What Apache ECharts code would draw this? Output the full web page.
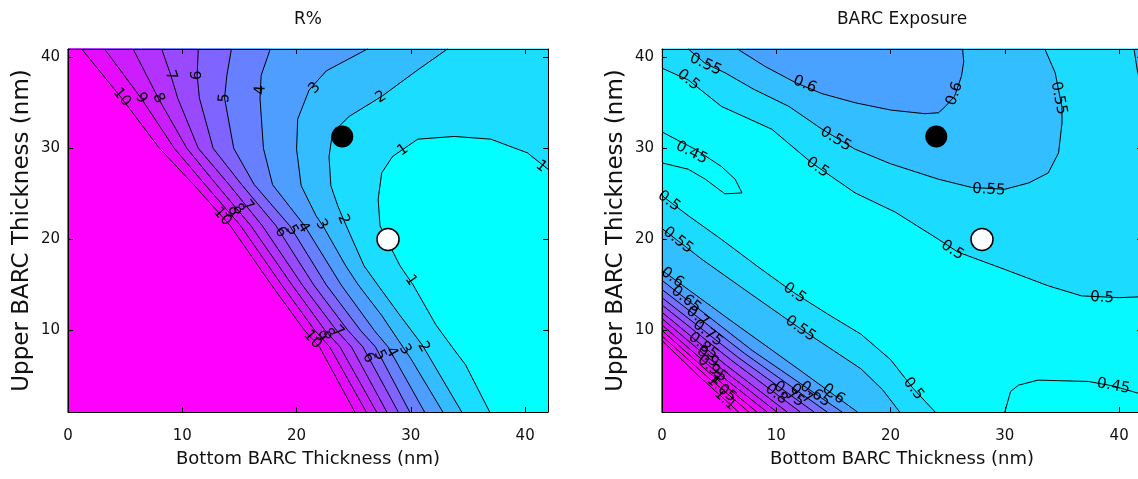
<!DOCTYPE html>
<html>
<head>
<meta charset="utf-8">
<script src="https://cdn.jsdelivr.net/npm/echarts@6.0.0/dist/echarts.min.js"></script>
<style>
html,body{margin:0;padding:0;background:#fff;}
#chart{width:1138px;height:479px;}
</style>
</head>
<body>
<div id="chart"></div>
<script>
// ================= DATA =================
const xTicks = [0, 10, 20, 30, 40];
const yTicks = [10, 20, 30, 40];
const xExtent = [0, 42];
const yExtent = [1.05, 40.9];

const rTitle = 'R%';
const eTitle = 'BARC Exposure';
const xName = 'Bottom BARC Thickness (nm)';
const yName = 'Upper BARC Thickness (nm)';

const blackPoint = [24.0, 31.3];
const whitePoint = [28.0, 20.0];

// ---- R% contour levels and lines ----
const rLevels = [1, 2, 3, 4, 5, 6, 7, 8, 9, 10];
const rColorDomain = [0, 10];
const rLine1 = [[42,27.7],[40.2,29.5],[37.0,31.0],[33.8,31.3],[30.6,31.0],[28.4,29.1],[27.45,27.3],[27.14,24.4],[27.3,21.5],[28.0,19.7],[29.05,17.1],[30.2,15],[32.2,10.6],[33.6,8.2],[34.8,6.2],[36.9,1.05]];
const rLine2 = [[33.2,40.9],[30.6,38.6],[27.45,35.7],[24.6,33.5],[23.15,31.7],[22.84,29.1],[23.0,25.9],[23.6,23.7],[24.1,22.2],[25.9,17.1],[27.1,15],[29.05,11.65],[31.0,8.4],[34.45,1.05]];
const rLine3 = [[26.2,40.9],[22.6,38.5],[21.1,36.4],[20.1,33.2],[20.0,29.9],[20.4,25.9],[21.7,22.6],[22.3,21.5],[24.3,17.1],[25.4,15],[27.45,11.65],[29.3,8.2],[30.0,6.9],[32.8,1.05]];
const rLine4 = [[17.7,40.9],[16.9,38],[16.8,35.5],[17.1,30],[17.9,26],[20.7,21.5],[23.9,15],[26.8,10],[28.0,8.2],[31.2,1.05]];
const rLine5 = [[14.3,40.9],[13.9,38],[13.7,35.5],[14.5,30],[16.3,26],[19.4,21.5],[22.6,15],[25.6,10],[26.9,8.2],[29.9,1.05]];
const rLine6 = [[11.4,40.9],[11.3,38],[11.5,35.5],[12.7,30],[15.2,26],[18.2,21.5],[21.5,15],[24.5,10],[25.8,8.2],[28.9,1.05]];
const rLine7 = [[8.2,40.9],[9.0,38],[9.6,35.5],[11.4,30],[14.1,26],[17.0,21.5],[20.5,15],[23.5,10],[24.8,8.2],[27.9,1.05]];
const rLine8 = [[5.7,40.9],[7.9,35.5],[10.4,30],[13.0,26],[16.0,21.5],[19.6,15],[22.5,10],[23.8,8.2],[27.0,1.05]];
const rLine9 = [[3.2,40.9],[6.4,35.5],[9.3,30],[12.0,26],[15.1,21.5],[18.7,15],[21.6,10],[22.9,8.2],[26.1,1.05]];
const rLine10 = [[1.2,40.9],[4.7,35.5],[8.0,30],[11.0,26],[14.2,21.5],[17.8,15],[20.7,10],[22.0,8.2],[25.1,1.05]];
// contour labels: [level, x, y]
const rLabels = [
  [10,4.7,35.6],[9,6.4,35.5],[8,7.9,35.5],[7,9.0,38.0],[6,11.3,38.0],[5,13.7,35.5],[4,16.85,36.4],
  [3,21.6,36.6],[2,27.4,35.6],[1,29.3,29.8],[1,41.4,28.0],
  [10,13.5,22.5],[9,14.2,22.9],[8,14.9,23.3],[7,15.7,23.7],
  [6,18.6,20.8],[5,19.6,21.0],[4,20.6,21.3],[3,22.2,21.6],[2,24.1,22.2],
  [10,21.4,9.0],[9,22.1,9.3],[8,22.8,9.6],[7,23.6,9.9],
  [6,26.3,7.0],[5,27.3,7.3],[4,28.3,7.6],[3,29.5,7.9],[2,31.1,8.2],
  [1,30.0,15.5]
];

// ---- BARC Exposure contour levels and lines ----
const eLevels = [0.45, 0.5, 0.55, 0.6, 0.65, 0.7, 0.75, 0.8, 0.85, 0.9, 0.95, 1, 1.05, 1.1];
const eColorDomain = [0.44, 1.0];
const eLine045a = [[30,1.05],[30.5,3.3],[31.2,4.0],[32.9,4.55],[37.3,4.4],[39.5,3.9],[41.7,3.1],[42,3.1]];
const eLine045b = [[0,31.8],[1.5,30.8],[2.9,29.9],[5.2,28.0],[6.4,26.6],[7.0,25.1],[5.5,25.0],[3.8,26.6],[2.3,27.7],[0,28.4]];
const eLine050a = [[42,13.7],[40,13.6],[36.7,13.8],[33.8,14.9],[30,16.7],[25.9,18.6],[24.2,20],[20.4,23],[16.9,25.1],[13.1,28.4],[9.6,32.1],[5.2,34.6],[2.3,37.5],[0,38.8]];
const eLine050b = [[0,24.8],[2.3,22.6],[5.2,20.0],[8.5,16.9],[11.6,14.1],[14.5,11.8],[17.4,9.6],[20.0,6.8],[22.0,3.6],[23.9,1.05]];
const eLine055a = [[33.5,40.9],[34.4,38.3],[35,34.5],[35,32.8],[34.7,29.5],[33.8,27.3],[32.1,26.2],[30,25.5],[27.1,25.7],[24.2,26.6],[20,28.3],[16.9,29.9],[14,32.1],[11.1,34.6],[8,36.5],[5.5,38.3],[3.8,39.3],[2.3,40.9]];
const eLine055b = [[0,21.2],[3.5,17.8],[7.1,14.6],[12.1,10.2],[15.0,7.8],[17.4,5.8],[19.3,3.5],[20.8,1.05]];
const eLine055c = [[42,36.5],[41.6,38.5],[41.3,40.9]];
const eLine060a = [[26.3,40.9],[26.4,39.5],[26.2,37.9],[25.6,35.7],[24.8,34.6],[24.2,33.9],[23,33.8],[20,34.2],[16.9,35],[14,36],[11.7,37.2],[9,39],[6.6,40.9]];
const eLine060b = [[0,16.6],[6,11.1],[12,5.7],[17.1,1.05]];
const eLine065 = [[0,15.5],[7.9,7.8],[15.75,1.05]];
const eLine070 = [[0,14.5],[7.2,7.5],[14.45,1.05]];
const eLine075 = [[0,13.6],[6.6,7.1],[13.3,1.05]];
const eLine080 = [[0,12.8],[6.0,6.8],[12.1,1.05]];
const eLine085 = [[0,12.0],[5.5,6.3],[10.95,1.05]];
const eLine090 = [[0,11.3],[5.0,6.0],[10.05,1.05]];
const eLine095 = [[0,10.6],[4.6,5.6],[9.2,1.05]];
const eLine100 = [[0,10.0],[4.1,5.4],[8.3,1.05]];
const eLine105 = [[0,9.4],[3.8,5.1],[7.6,1.05]];
const eLine110 = [[0,8.9],[3.3,4.9],[6.7,1.05]];
const eLabels = [
  [0.55,3.8,39.2],[0.5,2.3,37.5],[0.6,12.5,37.0],[0.55,15.2,31.0],[0.5,13.6,27.9],
  [0.6,25.6,36.0],[0.55,34.7,35.5],[0.55,28.6,25.45],[0.5,25.4,18.8],[0.5,38.5,13.6],[0.45,39.5,3.9],
  [0.45,2.6,29.5],
  [0.5,0.6,24.2],[0.55,1.4,19.9],[0.5,11.6,14.1],[0.55,12.1,10.2],[0.5,22.0,3.6],
  [0.6,0.9,15.8],[0.65,2.1,13.4],[0.7,3.1,11.5],[0.75,4.0,9.7],
  [0.85,3.6,8.3],[0.9,4.0,7.1],[0.95,4.4,5.8],[1,4.8,4.7],[1.05,5.2,3.6],[1.1,5.5,2.4],
  [0.8,10.0,3.0],[0.75,11.1,3.0],[0.7,12.2,3.0],[0.65,13.4,3.0],[0.6,15.0,3.0]
];

// ================= BUILD =================
const FONT = '"DejaVu Sans", "Liberation Sans", Arial, sans-serif';

const rContours = [rLine1,rLine2,rLine3,rLine4,rLine5,rLine6,rLine7,rLine8,rLine9,rLine10]
  .map((pts, i) => ({level: rLevels[i], pts: pts, side: 'high'}));

const eContours = [
  {level: 0.45, pts: eLine045a, side: 'low'},
  {level: 0.45, pts: eLine045b, side: 'low'},
  {level: 0.5, pts: eLine050a, side: 'high'},
  {level: 0.5, pts: eLine050b, side: 'high'},
  {level: 0.55, pts: eLine055a, side: 'high'},
  {level: 0.55, pts: eLine055b, side: 'high'},
  {level: 0.55, pts: eLine055c, side: 'high'},
  {level: 0.6, pts: eLine060a, side: 'high'},
  {level: 0.6, pts: eLine060b, side: 'high'},
  {level: 0.65, pts: eLine065, side: 'high'},
  {level: 0.7, pts: eLine070, side: 'high'},
  {level: 0.75, pts: eLine075, side: 'high'},
  {level: 0.8, pts: eLine080, side: 'high'},
  {level: 0.85, pts: eLine085, side: 'high'},
  {level: 0.9, pts: eLine090, side: 'high'},
  {level: 0.95, pts: eLine095, side: 'high'},
  {level: 1, pts: eLine100, side: 'high'},
  {level: 1.05, pts: eLine105, side: 'high'},
  {level: 1.1, pts: eLine110, side: 'high'}
];

// "cool" colormap (cyan -> magenta), green channel slightly deepened to match the picture
function cool(t) {
  t = Math.max(0, Math.min(1, t));
  return 'rgb(' + Math.round(255 * t) + ',' + Math.round(255 * Math.pow(1 - t, 1.35)) + ',255)';
}

const cornerPts = [[xExtent[0], yExtent[0]], [xExtent[0], yExtent[1]], [xExtent[1], yExtent[1]], [xExtent[1], yExtent[0]]];
function edgeT(p) {
  const W = xExtent[1] - xExtent[0], H = yExtent[1] - yExtent[0], e = 1e-6;
  if (Math.abs(p[0] - xExtent[0]) < e) return (p[1] - yExtent[0]) / H;
  if (Math.abs(p[1] - yExtent[1]) < e) return 1 + (p[0] - xExtent[0]) / W;
  if (Math.abs(p[0] - xExtent[1]) < e) return 2 + (yExtent[1] - p[1]) / H;
  if (Math.abs(p[1] - yExtent[0]) < e) return 3 + (xExtent[1] - p[0]) / W;
  return null;
}
// close a boundary-to-boundary contour by walking the frame clockwise from its end to its start
function closeRing(pts) {
  const ts = edgeT(pts[0]), te = edgeT(pts[pts.length - 1]);
  const ring = pts.slice();
  if (ts === null || te === null) return ring;
  let end = ts;
  if (end <= te) end += 4;
  for (let c = Math.ceil(te + 1e-9); c < end; c++) ring.push(cornerPts[c % 4]);
  return ring;
}

function segDist(p, a, b) {
  const dx = b[0] - a[0], dy = b[1] - a[1];
  const L = dx * dx + dy * dy;
  let t = L ? ((p[0] - a[0]) * dx + (p[1] - a[1]) * dy) / L : 0;
  t = Math.max(0, Math.min(1, t));
  const qx = a[0] + t * dx - p[0], qy = a[1] + t * dy - p[1];
  return Math.sqrt(qx * qx + qy * qy);
}

const grids = [
  {left: 68, top: 49, width: 480, height: 363},
  {left: 662, top: 49, width: 480, height: 363}
];

function buildSeries(gi, levels, domain, contours, labels) {
  const tOf = L => (L - domain[0]) / (domain[1] - domain[0]);
  const lows = contours.filter(c => c.side === 'low');
  const highs = contours.filter(c => c.side !== 'low').sort((a, b) => a.level - b.level);
  const bandBelow = L => { const k = levels.indexOf(L); return k <= 0 ? cool(0) : cool(tOf(levels[k - 1])); };
  const polys = [];
  polys.push({ring: cornerPts, color: lows.length ? cool(tOf(Math.min.apply(null, lows.map(c => c.level)))) : cool(0)});
  lows.forEach(c => polys.push({ring: closeRing(c.pts), color: bandBelow(c.level)}));
  highs.forEach(c => polys.push({ring: closeRing(c.pts), color: cool(tOf(c.level))}));

  const axisIdx = {xAxisIndex: 2 * gi, yAxisIndex: 2 * gi};
  const out = [];
  out.push(Object.assign({
    type: 'custom', silent: true, animation: false, z: 1,
    data: polys.map(p => p.ring[0]),
    renderItem: (params, api) => {
      const p = polys[params.dataIndex];
      return {type: 'polygon', shape: {points: p.ring.map(q => api.coord(q))},
        style: {fill: p.color, stroke: p.color, lineWidth: 0.6}};
    }
  }, axisIdx));
  out.push(Object.assign({
    type: 'custom', silent: true, animation: false, z: 2,
    data: contours.map(c => c.pts[0]),
    renderItem: (params, api) => ({
      type: 'polyline', shape: {points: contours[params.dataIndex].pts.map(q => api.coord(q))},
      style: {stroke: '#000', lineWidth: 1, fill: null}
    })
  }, axisIdx));
  out.push(Object.assign({
    type: 'custom', silent: true, animation: false, z: 3,
    data: labels.map(l => [l[1], l[2]]),
    renderItem: (params, api) => {
      const l = labels[params.dataIndex];
      const p = api.coord([l[1], l[2]]);
      let best = Infinity, ang = 0;
      contours.forEach(c => {
        if (Math.abs(c.level - l[0]) > 1e-9) return;
        const P = c.pts.map(q => api.coord(q));
        for (let k = 0; k < P.length - 1; k++) {
          const d = segDist(p, P[k], P[k + 1]);
          if (d < best) { best = d; ang = Math.atan2(P[k + 1][1] - P[k][1], P[k + 1][0] - P[k][0]); }
        }
      });
      let r = -ang;
      while (r > Math.PI / 2) r -= Math.PI;
      while (r < -Math.PI / 2) r += Math.PI;
      return {type: 'text', x: p[0], y: p[1], rotation: r,
        style: {text: String(l[0]), fill: '#000', fontSize: 15, fontFamily: FONT, align: 'center', verticalAlign: 'middle'}};
    }
  }, axisIdx));
  out.push(Object.assign({
    type: 'scatter', silent: true, animation: false, z: 5, symbol: 'circle', symbolSize: 22,
    data: [blackPoint], itemStyle: {color: '#000', opacity: 1}
  }, axisIdx));
  out.push(Object.assign({
    type: 'scatter', silent: true, animation: false, z: 5, symbol: 'circle', symbolSize: 22,
    data: [whitePoint], itemStyle: {color: '#fff', borderColor: '#000', borderWidth: 1.5, opacity: 1}
  }, axisIdx));
  return out;
}

function axisBase(gi) {
  return {
    type: 'value', gridIndex: gi, z: 10, splitLine: {show: false},
    axisLine: {show: true, onZero: false, lineStyle: {color: '#000', width: 1}}
  };
}
const xAxes = [], yAxes = [];
[0, 1].forEach(gi => {
  xAxes.push(Object.assign(axisBase(gi), {
    min: xExtent[0], max: xExtent[1], position: 'bottom',
    axisTick: {show: true, inside: true, length: 5, customValues: xTicks, lineStyle: {color: '#000'}},
    axisLabel: {show: true, customValues: xTicks, margin: 17, fontFamily: FONT, fontSize: 15, color: '#111'},
    name: xName, nameLocation: 'middle', nameGap: 38,
    nameTextStyle: {fontFamily: FONT, fontSize: 18, color: '#111'}
  }));
  xAxes.push(Object.assign(axisBase(gi), {
    min: xExtent[0], max: xExtent[1], position: 'top',
    axisTick: {show: true, inside: true, length: 5, customValues: xTicks, lineStyle: {color: '#000'}},
    axisLabel: {show: false}
  }));
  yAxes.push(Object.assign(axisBase(gi), {
    min: yExtent[0], max: yExtent[1], position: 'left',
    axisTick: {show: true, inside: true, length: 5, customValues: yTicks, lineStyle: {color: '#000'}},
    axisLabel: {show: true, customValues: yTicks, margin: 8, fontFamily: FONT, fontSize: 15, color: '#111'},
    name: yName, nameLocation: 'middle', nameGap: 34,
    nameTextStyle: {fontFamily: FONT, fontSize: 23, color: '#111'}
  }));
  yAxes.push(Object.assign(axisBase(gi), {
    min: yExtent[0], max: yExtent[1], position: 'right',
    axisTick: {show: true, inside: true, length: 5, customValues: yTicks, lineStyle: {color: '#000'}},
    axisLabel: {show: false}
  }));
});

const series = [].concat(
  buildSeries(0, rLevels, rColorDomain, rContours, rLabels),
  buildSeries(1, eLevels, eColorDomain, eContours, eLabels)
);

const option = {
  animation: false,
  backgroundColor: '#fff',
  grid: grids.map(g => Object.assign({containLabel: false, outerBoundsMode: 'none'}, g)),
  xAxis: xAxes,
  yAxis: yAxes,
  graphic: [
    {type: 'text', x: grids[0].left + grids[0].width / 2, y: 20,
      style: {text: rTitle, fontFamily: FONT, fontSize: 17, fill: '#111', align: 'center', verticalAlign: 'middle'}},
    {type: 'text', x: grids[1].left + grids[1].width / 2, y: 20,
      style: {text: eTitle, fontFamily: FONT, fontSize: 17, fill: '#111', align: 'center', verticalAlign: 'middle'}}
  ],
  series: series
};

const chart = echarts.init(document.getElementById('chart'), null, {renderer: 'canvas'});
chart.setOption(option);
</script>
</body>
</html>
